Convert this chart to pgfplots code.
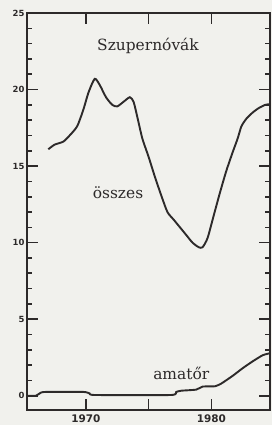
\documentclass[border=0pt]{standalone}
\usepackage{fontspec}
\setmainfont{DejaVu Serif}
\newfontfamily\tickfont{DejaVu Sans Bold}
\usepackage{pgfplots}
\pgfplotsset{compat=1.18}
\definecolor{bg}{RGB}{241,241,237}
\definecolor{ink}{RGB}{45,42,42}
\pagecolor{bg}
\begin{document}%
\begin{tikzpicture}
\begin{axis}[
  at={(27bp,15bp)}, anchor=south west,
  width=243bp, height=397bp, scale only axis,
  xmin=1965.3, xmax=1984.68, ymin=-0.93, ymax=25,
  xtick={1970,1975,1980}, xticklabels={1970,,1980},
  ytick={0,5,10,15,20,25}, yticklabels={0,5,10,15,20,25},
  minor ytick={1,2,3,4,6,7,8,9,11,12,13,14,16,17,18,19,21,22,23,24},
  major tick length=11bp, minor tick length=5bp,
  axis line style={ink, line width=1.6bp},
  tick style={ink, line width=1.6bp},
  yticklabel style={font=\tickfont\fontsize{8.5}{9}\selectfont, text=ink, xshift=1bp},
  xticklabel style={font=\tickfont\fontsize{10.5}{11}\selectfont, text=ink, yshift=-1bp},
]
\addplot[ink, line width=1.9bp, smooth, tension=0.4] coordinates {
(1967.0,16.1) (1967.5,16.4) (1968.2,16.6) (1968.7,17.0) (1969.3,17.6)
(1969.8,18.7) (1970.2,19.8) (1970.7,20.7) (1971.1,20.3) (1971.6,19.5)
(1972.1,19.0) (1972.5,18.9) (1973.0,19.2) (1973.5,19.5) (1973.8,19.2)
(1974.1,18.2) (1974.5,16.8) (1975.0,15.6) (1975.5,14.3) (1976.0,13.1)
(1976.5,12.0) (1977.0,11.5) (1977.5,11.0) (1978.0,10.5) (1978.5,10.0)
(1979.0,9.7) (1979.3,9.7) (1979.7,10.3) (1980.2,11.8) (1980.7,13.3)
(1981.2,14.7) (1981.7,15.9) (1982.1,16.8) (1982.4,17.6) (1982.8,18.1)
(1983.3,18.5) (1983.8,18.8) (1984.3,19.0) (1984.68,19.05)
};
\addplot[ink, line width=1.9bp, smooth, tension=0.3] coordinates {
(1965.3,0.0) (1966.0,0.0) (1966.4,0.2) (1966.8,0.25) (1969.8,0.25)
(1970.3,0.15) (1970.7,0.05) (1976.8,0.05) (1977.2,0.25) (1977.6,0.33)
(1978.8,0.4) (1979.3,0.6) (1980.3,0.62) (1980.8,0.8) (1981.7,1.3)
(1982.5,1.8) (1983.3,2.25) (1984.1,2.65) (1984.68,2.78)
};
\node[text=ink, anchor=base, font=\fontsize{15.5}{16}\selectfont] at (axis cs:1974.95,22.56) {Szupernóvák};
\node[text=ink, anchor=base, font=\fontsize{15.5}{16}\selectfont] at (axis cs:1972.56,12.9) {összes};
\node[text=ink, anchor=base, font=\fontsize{15.5}{16}\selectfont] at (axis cs:1977.6,1.09) {amatőr};
\end{axis}
\pgfresetboundingbox
\path[use as bounding box] (0,0) rectangle (272bp,425bp);
\end{tikzpicture}%
\end{document}
